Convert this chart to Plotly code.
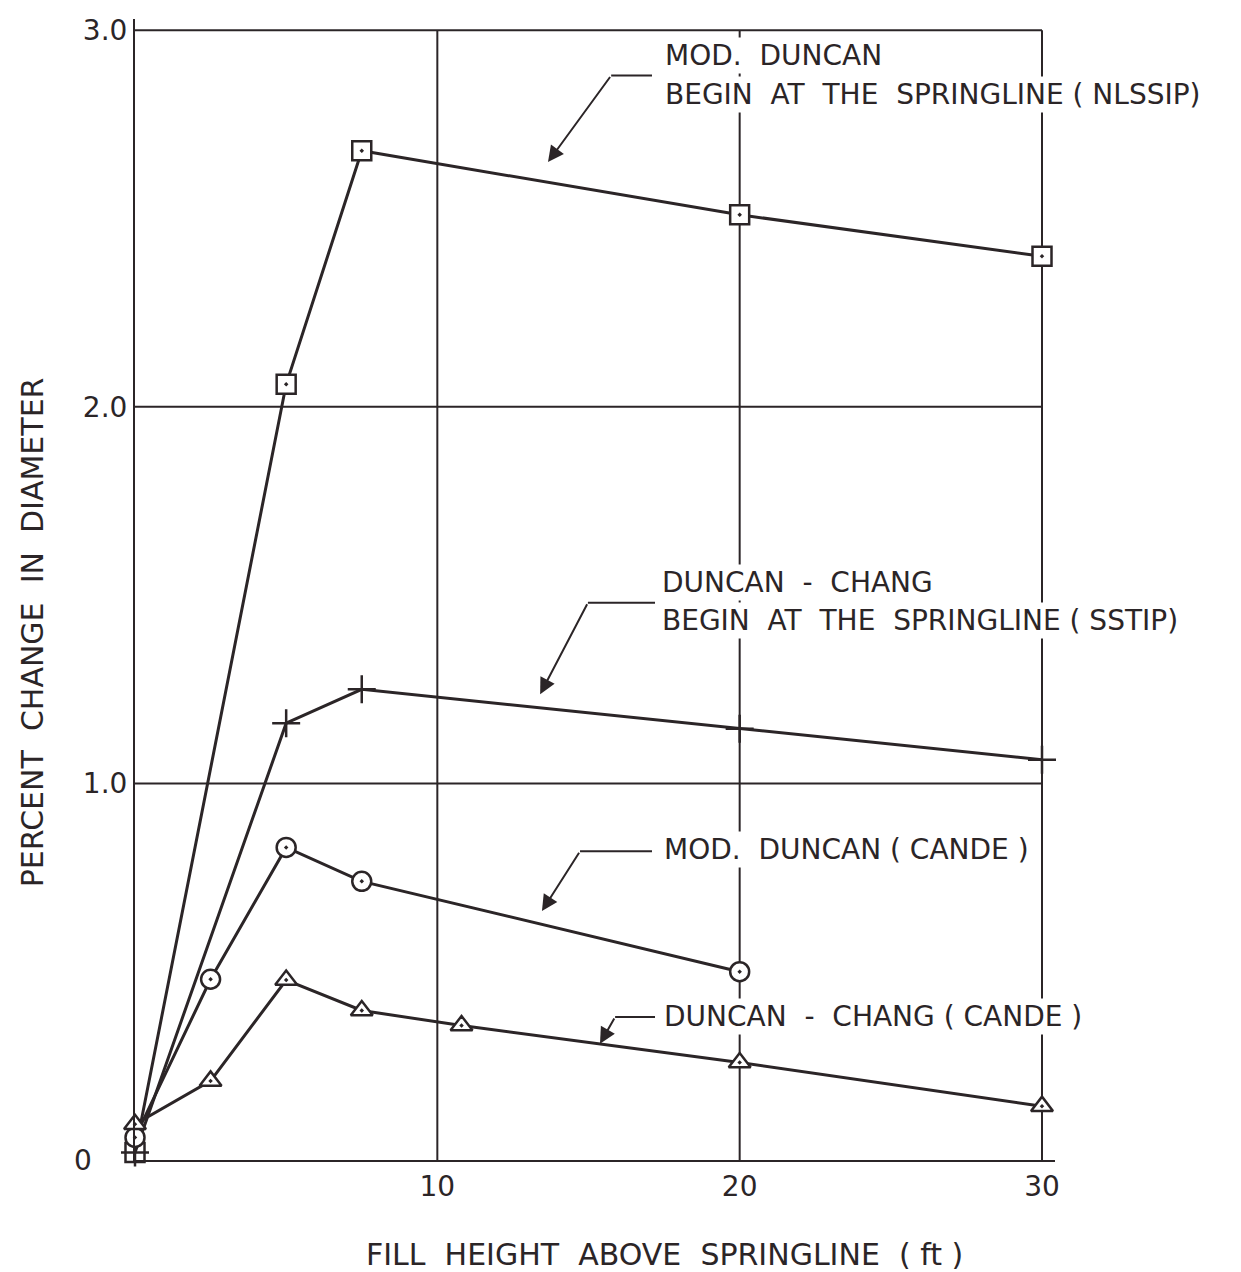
import plotly.graph_objects as go

INK = "#2b2527"
FONT = "DejaVu Sans"

# ---- data ----
x_nlssip = [0, 5, 7.5, 20, 30]
y_nlssip = [0.02, 2.06, 2.68, 2.51, 2.40]

x_sstip = [0, 5, 7.5, 20, 30]
y_sstip = [0.02, 1.16, 1.25, 1.145, 1.063]

x_cande_mod = [0, 2.5, 5, 7.5, 20]
y_cande_mod = [0.06, 0.48, 0.83, 0.74, 0.50]

x_cande_dc = [0, 2.5, 5, 7.5, 10.8, 20, 30]
y_cande_dc = [0.095, 0.21, 0.478, 0.397, 0.357, 0.259, 0.143]

x_ticks = [10, 20, 30]
x_ticklabels = ["10", "20", "30"]
y_ticks = [0, 1, 2, 3]
y_ticklabels = ["0\u2007\u2007", "1.0", "2.0", "3.0"]

fig = go.Figure()

def add_series(xs, ys, symbol, size):
    fig.add_trace(go.Scatter(
        x=xs, y=ys, mode="lines+markers", cliponaxis=False,
        line=dict(color=INK, width=3),
        marker=dict(symbol=symbol, size=size, color="white",
                    line=dict(color=INK, width=2.5)),
        showlegend=False, hoverinfo="skip"))

add_series(x_nlssip, y_nlssip, "square-dot", 19)
add_series(x_sstip, y_sstip, "cross-thin", 20)
add_series(x_cande_mod, y_cande_mod, "circle-dot", 19)
add_series(x_cande_dc, y_cande_dc, "triangle-up-dot", 19)

# grid lines (drawn as in the original frame)
shapes = []
for gx in x_ticks:
    shapes.append(dict(type="line", xref="x", yref="y", x0=gx, x1=gx, y0=0, y1=3,
                       line=dict(color=INK, width=2), layer="below"))
for gy in [1, 2, 3]:
    shapes.append(dict(type="line", xref="x", yref="y", x0=0, x1=30, y0=gy, y1=gy,
                       line=dict(color=INK, width=2), layer="below"))

# leader lines (horizontal parts)
leaders = [
    (15.75, 17.1, 2.88),
    (14.98, 17.2, 1.48),
    (14.72, 17.1, 0.82),
    (15.88, 17.2, 0.38),
]
for x0, x1, yy in leaders:
    shapes.append(dict(type="line", xref="x", yref="y", x0=x0, x1=x1, y0=yy, y1=yy,
                       line=dict(color=INK, width=2)))

annotations = []
# arrows: head (x,y), tail (ax, ay)
arrows = [
    (13.66, 2.65, 15.75, 2.88),
    (13.40, 1.237, 14.98, 1.48),
    (13.46, 0.661, 14.72, 0.82),
    (15.38, 0.309, 15.88, 0.38),
]
for hx, hy, tx, ty in arrows:
    annotations.append(dict(x=hx, y=hy, ax=tx, ay=ty, xref="x", yref="y",
                            axref="x", ayref="y", text="", showarrow=True,
                            arrowhead=2, arrowsize=1.6, arrowwidth=2, arrowcolor=INK))

labels = [
    (17.47, 2.934, "MOD.  DUNCAN"),
    (17.47, 2.83, "BEGIN  AT  THE  SPRINGLINE ( NLSSIP)"),
    (17.37, 1.533, "DUNCAN  -  CHANG"),
    (17.37, 1.433, "BEGIN  AT  THE  SPRINGLINE ( SSTIP)"),
    (17.43, 0.825, "MOD.  DUNCAN ( CANDE )"),
    (17.43, 0.381, "DUNCAN  -  CHANG ( CANDE )"),
]
for lx, ly, txt in labels:
    annotations.append(dict(x=lx, y=ly, xref="x", yref="y", text=txt, showarrow=False,
                            xanchor="left", yanchor="middle", bgcolor="white",
                            borderpad=1,
                            font=dict(family=FONT, size=28, color=INK)))

# axis titles
annotations.append(dict(x=0.575, y=-0.083, xref="paper", yref="paper",
                        text="FILL  HEIGHT  ABOVE  SPRINGLINE  ( ft )", showarrow=False,
                        xanchor="center", yanchor="middle",
                        font=dict(family=FONT, size=30, color=INK)))
annotations.append(dict(x=-0.112, y=0.4625, xref="paper", yref="paper",
                        text="PERCENT  CHANGE  IN  DIAMETER", showarrow=False,
                        textangle=-90, xanchor="center", yanchor="middle",
                        font=dict(family=FONT, size=30, color=INK)))

fig.update_layout(
    width=1233, height=1264,
    margin=dict(l=127, r=186, t=6, b=112),
    paper_bgcolor="white", plot_bgcolor="white",
    shapes=shapes, annotations=annotations,
    font=dict(family=FONT, color=INK, size=28),
    xaxis=dict(range=[0, 30.43], tickvals=x_ticks, ticktext=x_ticklabels,
               showgrid=False, zeroline=False, showline=True, linecolor=INK, linewidth=2,
               ticks="", tickfont=dict(size=28, color=INK)),
    yaxis=dict(range=[0, 3.03], tickvals=y_ticks, ticktext=y_ticklabels,
               showgrid=False, zeroline=False, showline=True, linecolor=INK, linewidth=2,
               ticks="", tickfont=dict(size=28, color=INK)),
)

fig.write_html("out.html")
